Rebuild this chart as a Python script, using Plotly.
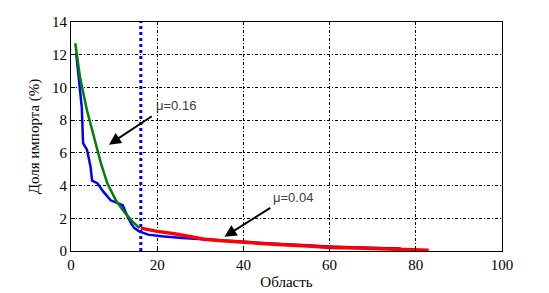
import plotly.graph_objects as go

# Blue series (full data)
blue_x = [1.2, 2.1, 2.5, 2.8, 3.7, 4.5, 4.9, 6.1, 7.6, 9.2, 10.8, 12.0, 12.8, 13.9, 14.7, 15.8, 17.9, 21, 25.8,
          30, 35, 40, 45, 50, 55, 60, 65, 70, 76.5]
blue_y = [12.1, 9.8, 8.8, 6.6, 6.2, 5.2, 4.3, 4.15, 3.6, 3.1, 2.9, 2.8, 2.3, 1.7, 1.4, 1.2, 1.0, 0.9, 0.8,
          0.72, 0.64, 0.57, 0.48, 0.42, 0.34, 0.28, 0.23, 0.2, 0.15]

# Green series (mu = 0.16)
green_x = [1.0, 2.1, 3.7, 5.3, 6.9, 8.4, 10.4, 12.3, 14.3, 15.9]
green_y = [12.7, 10.6, 8.6, 7.0, 5.4, 4.15, 3.1, 2.4, 1.8, 1.4]

# Red series (mu = 0.04)
red_x = [16.2, 18, 20, 24, 28, 31, 35, 40, 45, 50, 55, 60, 66, 72, 78, 83]
red_y = [1.4, 1.28, 1.2, 1.05, 0.86, 0.72, 0.62, 0.52, 0.43, 0.36, 0.3, 0.22, 0.18, 0.15, 0.1, 0.05]

cut_x = 16.2

x_ticks = [0, 20, 40, 60, 80, 100]
y_ticks = [0, 2, 4, 6, 8, 10, 12, 14]

serif = "Times New Roman"

fig = go.Figure()
fig.add_trace(go.Scatter(x=[cut_x, cut_x], y=[0, 14], mode="lines",
                         line=dict(color="#0000ff", width=3, dash="dot"), showlegend=False))
fig.add_trace(go.Scatter(x=blue_x, y=blue_y, mode="lines",
                         line=dict(color="#0000ff", width=2.5), showlegend=False))
fig.add_trace(go.Scatter(x=red_x, y=red_y, mode="lines",
                         line=dict(color="#ff0000", width=3.5), showlegend=False))
fig.add_trace(go.Scatter(x=green_x, y=green_y, mode="lines",
                         line=dict(color="#007f00", width=2.5), showlegend=False))

grid = dict(showgrid=True, gridcolor="black", gridwidth=1, griddash="3px,2px,1px,2px")

fig.update_xaxes(range=[0, 100], tickvals=x_ticks, ticktext=[str(v) for v in x_ticks],
                 zeroline=False, automargin=False,
                 showline=True, linecolor="black", linewidth=1, mirror=True,
                 ticks="inside", ticklen=4, tickcolor="black",
                 tickfont=dict(family=serif, size=15, color="black"),
                 title=dict(text="Область", font=dict(family=serif, size=15, color="black"), standoff=4),
                 **grid)
fig.update_yaxes(range=[0, 14], tickvals=y_ticks, ticktext=[str(v) for v in y_ticks],
                 zeroline=False, automargin=False,
                 showline=True, linecolor="black", linewidth=1, mirror=True,
                 ticks="inside", ticklen=4, tickcolor="black",
                 tickfont=dict(family=serif, size=15, color="black"),
                 title=dict(text="Доля импорта (%)", font=dict(family=serif, size=15, color="black"), standoff=8),
                 **grid)

fig.add_annotation(x=8.8, y=6.5, ax=19.1, ay=8.3, xref="x", yref="y", axref="x", ayref="y",
                   showarrow=True, arrowhead=2, arrowsize=1.2, arrowwidth=2, arrowcolor="black", text="")
fig.add_annotation(x=19.3, y=8.9, xref="x", yref="y", text="μ=0.16", showarrow=False,
                   xanchor="left", yanchor="middle",
                   font=dict(family="Liberation Sans", size=13, color="#404040"))
fig.add_annotation(x=35.6, y=0.87, ax=46.6, ay=2.7, xref="x", yref="y", axref="x", ayref="y",
                   showarrow=True, arrowhead=2, arrowsize=1.2, arrowwidth=2, arrowcolor="black", text="")
fig.add_annotation(x=46.3, y=3.25, xref="x", yref="y", text="μ=0.04", showarrow=False,
                   xanchor="left", yanchor="middle",
                   font=dict(family="Liberation Sans", size=13, color="#404040"))

# page body has an 8px default margin; compensate so the plot box lands where the reference's does
fig.update_layout(width=541, height=285, margin=dict(l=63, r=47, t=14, b=42),
                  font=dict(family=serif, color="black"),
                  paper_bgcolor="white", plot_bgcolor="white")

fig.write_html("out.html")
